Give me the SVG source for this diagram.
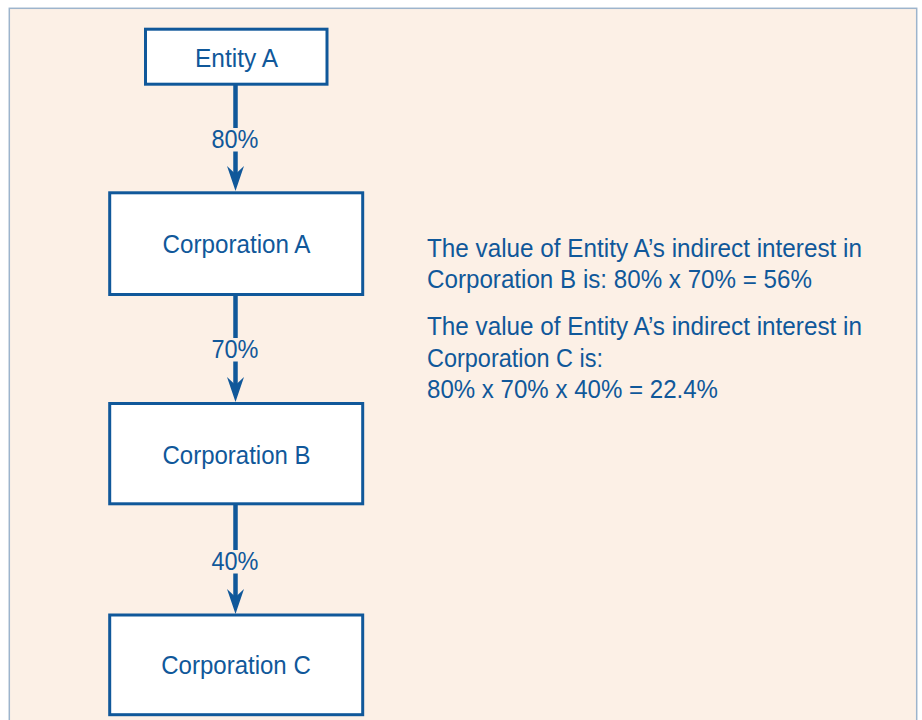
<svg xmlns="http://www.w3.org/2000/svg" width="922" height="720" viewBox="0 0 922 720">
  <defs>
    <style>
      .box { fill: #ffffff; stroke: #10589a; stroke-width: 3; }
      .txt { font-family: "Liberation Sans", Arial, sans-serif; font-size: 26px; fill: #10589a; }
      .mid { text-anchor: middle; }
      .conn { stroke: #10589a; stroke-width: 4.5; fill: none; }
      .lblbg { fill: #fcf0e6; }
    </style>
    <marker id="arr" markerUnits="userSpaceOnUse" markerWidth="26" markerHeight="20" viewBox="0 0 26 20" refX="16" refY="9" orient="auto">
      <path d="M0,0.5 L25,9 L0,17.5 L8,9 Z" fill="#10589a"/>
    </marker>
  </defs>
  <rect x="0" y="0" width="922" height="720" fill="#ffffff"/>
  <rect x="9.3" y="8.3" width="907.4" height="730" fill="#fcf0e6" stroke="#9db4cc" stroke-width="1.5"/>

  <g id="connectors">
    <g id="c1">
      <line class="conn" x1="235.5" y1="85" x2="235.5" y2="182" marker-end="url(#arr)"/>
      <rect class="lblbg" x="209" y="128" width="53" height="23.5"/>
      <text class="txt mid" x="235" y="148.3" textLength="47" lengthAdjust="spacingAndGlyphs">80%</text>
    </g>
    <g id="c2">
      <line class="conn" x1="235.5" y1="295" x2="235.5" y2="393" marker-end="url(#arr)"/>
      <rect class="lblbg" x="209" y="338" width="53" height="23.5"/>
      <text class="txt mid" x="235" y="358.3" textLength="47" lengthAdjust="spacingAndGlyphs">70%</text>
    </g>
    <g id="c3">
      <line class="conn" x1="235.5" y1="505" x2="235.5" y2="605" marker-end="url(#arr)"/>
      <rect class="lblbg" x="209" y="550" width="53" height="23.5"/>
      <text class="txt mid" x="235" y="570.3" textLength="47" lengthAdjust="spacingAndGlyphs">40%</text>
    </g>
  </g>

  <g id="entityA">
    <rect class="box" x="145.5" y="29.2" width="181.5" height="55"/>
    <text class="txt mid" x="236.5" y="66.7" textLength="83" lengthAdjust="spacingAndGlyphs">Entity A</text>
  </g>
  <g id="corpA">
    <rect class="box" x="109.7" y="192.8" width="253" height="101.7"/>
    <text class="txt mid" x="236.5" y="253.3" textLength="148" lengthAdjust="spacingAndGlyphs">Corporation A</text>
  </g>
  <g id="corpB">
    <rect class="box" x="109.7" y="403.5" width="253" height="100.3"/>
    <text class="txt mid" x="236.5" y="463.8" textLength="148" lengthAdjust="spacingAndGlyphs">Corporation B</text>
  </g>
  <g id="corpC">
    <rect class="box" x="109.7" y="615" width="253" height="99.7"/>
    <text class="txt mid" x="236" y="674.3" textLength="149.5" lengthAdjust="spacingAndGlyphs">Corporation C</text>
  </g>

  <g id="note">
    <text class="txt" x="427" y="256.7" textLength="435" lengthAdjust="spacingAndGlyphs">The value of Entity A’s indirect interest in</text>
    <text class="txt" x="427" y="288.3" textLength="385" lengthAdjust="spacingAndGlyphs">Corporation B is: 80% x 70% = 56%</text>
    <text class="txt" x="427" y="335" textLength="435" lengthAdjust="spacingAndGlyphs">The value of Entity A’s indirect interest in</text>
    <text class="txt" x="427" y="367.3" textLength="176" lengthAdjust="spacingAndGlyphs">Corporation C is:</text>
    <text class="txt" x="427" y="397.5" textLength="291" lengthAdjust="spacingAndGlyphs">80% x 70% x 40% = 22.4%</text>
  </g>
</svg>
